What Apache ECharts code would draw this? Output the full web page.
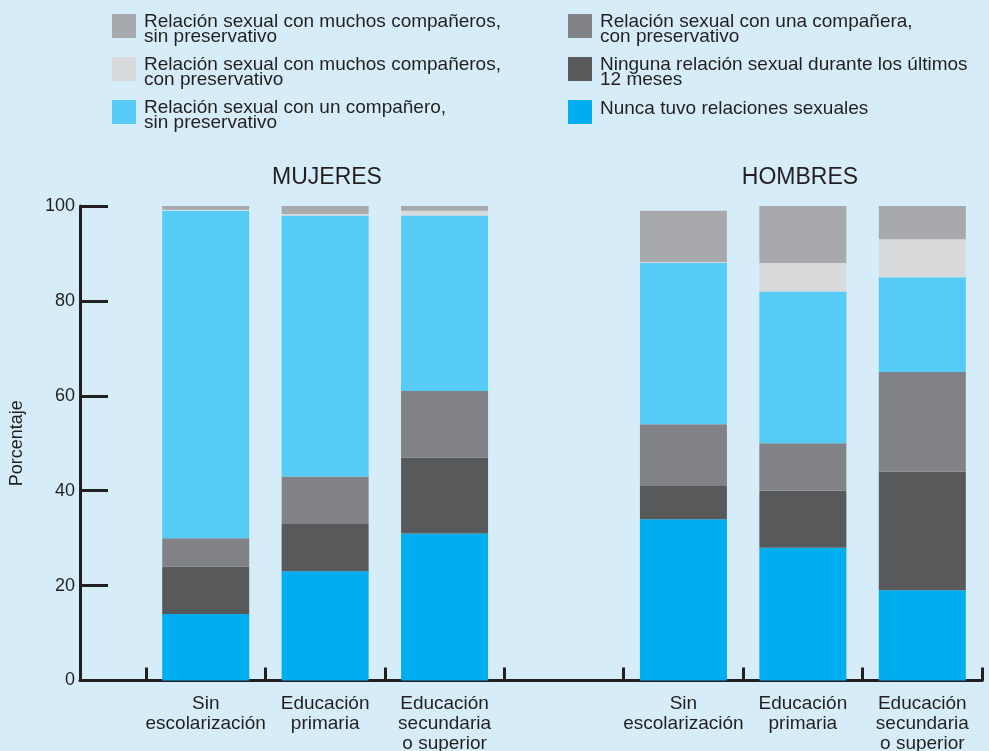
<!DOCTYPE html>
<html>
<head>
<meta charset="utf-8">
<script src="https://cdn.jsdelivr.net/npm/echarts@6/dist/echarts.min.js"></script>
<style>
html,body{margin:0;padding:0;background:#d6edf9;}
#chart{width:989px;height:751px;}
</style>
</head>
<body>
<div id="chart"></div>
<script>
// Categories (empty slot separates the two groups)
const categories = ['Sin\nescolarización', 'Educación\nprimaria', 'Educación\nsecundaria\no superior', '',
                    'Sin\nescolarización', 'Educación\nprimaria', 'Educación\nsecundaria\no superior'];
const groupTitles = ['MUJERES', 'HOMBRES'];
const yTicks = [0, 20, 40, 60, 80, 100];

// Series names (stack order, bottom to top)
const nameNunca = 'Nunca tuvo relaciones sexuales';
const nameNinguna = 'Ninguna relación sexual durante los últimos 12 meses';
const nameUnaCon = 'Relación sexual con una compañera, con preservativo';
const nameUnSin = 'Relación sexual con un compañero, sin preservativo';
const nameMuchosCon = 'Relación sexual con muchos compañeros, con preservativo';
const nameMuchosSin = 'Relación sexual con muchos compañeros, sin preservativo';

// Values (percent); '-' = empty separator slot
const nunca      = [14, 23, 31, '-', 34, 28, 19];
const ninguna    = [10, 10, 16, '-', 7, 12, 25];
const unaCon     = [6, 10, 14, '-', 13, 10, 21];
const unSin      = [69, 55, 37, '-', 34, 32, 20];
const muchosCon  = [0.2, 0.3, 1, '-', 0.2, 6, 8];
const muchosSin  = [0.8, 1.7, 1, '-', 10.8, 12, 8];

// Legend label lines
const legendLines = {};
legendLines[nameNunca] = ['Nunca tuvo relaciones sexuales'];
legendLines[nameNinguna] = ['Ninguna relación sexual durante los últimos', '12 meses'];
legendLines[nameUnaCon] = ['Relación sexual con una compañera,', 'con preservativo'];
legendLines[nameUnSin] = ['Relación sexual con un compañero,', 'sin preservativo'];
legendLines[nameMuchosCon] = ['Relación sexual con muchos compañeros,', 'con preservativo'];
legendLines[nameMuchosSin] = ['Relación sexual con muchos compañeros,', 'sin preservativo'];

const colors = {};
colors[nameNunca] = '#00aeef';
colors[nameNinguna] = '#58595b';
colors[nameUnaCon] = '#808285';
colors[nameUnSin] = '#55cbf5';
colors[nameMuchosCon] = '#d9dadc';
colors[nameMuchosSin] = '#a7a9ac';

const FONT = "'Liberation Sans', Arial, sans-serif";
const TXT = '#231f20';

const chart = echarts.init(document.getElementById('chart'), null, {renderer: 'canvas'});

function barSeries(name, data) {
  return {
    name: name, type: 'bar', stack: 'total', data: data,
    xAxisIndex: 0, yAxisIndex: 0,
    barWidth: 87,
    itemStyle: {color: colors[name]},
    emphasis: {disabled: true}
  };
}

function legendFormatter(n) {
  const lines = legendLines[n].map(function (l) { return '{t|' + l + '}'; });
  if (lines.length > 1) {
    return '{s6| }\n' + lines.join('\n');
  }
  return '{s7| }\n' + lines[0] + '\n{s14| }';
}

const legendCommon = {
  orient: 'vertical', top: 8, itemWidth: 24, itemHeight: 24, itemGap: 5,
  icon: 'rect', padding: 0,
  formatter: legendFormatter,
  textStyle: {
    fontFamily: FONT, fontSize: 19, color: TXT, padding: [0, 0, 0, 3],
    rich: {
      t: {fontFamily: FONT, fontSize: 19, lineHeight: 15, color: TXT},
      s6: {fontSize: 6, lineHeight: 6, height: 6},
      s7: {fontSize: 7, lineHeight: 7, height: 7},
      s14: {fontSize: 14, lineHeight: 14, height: 14}
    }
  },
  selectedMode: false
};

const option = {
  backgroundColor: '#d6edf9',
  animation: false,
  textStyle: {fontFamily: FONT},
  title: [
    {text: groupTitles[0], left: 327, top: 166, padding: 0, textAlign: 'center',
     textStyle: {fontFamily: FONT, fontSize: 23, fontWeight: 'normal', color: TXT}},
    {text: groupTitles[1], left: 800, top: 166, padding: 0, textAlign: 'center',
     textStyle: {fontFamily: FONT, fontSize: 23, fontWeight: 'normal', color: TXT}}
  ],
  legend: [
    Object.assign({}, legendCommon, {left: 112, data: [nameMuchosSin, nameMuchosCon, nameUnSin]}),
    Object.assign({}, legendCommon, {left: 568, data: [nameUnaCon, nameNinguna, nameNunca]})
  ],
  grid: [
    {left: 146, right: 7, top: 206, bottom: 70.5, containLabel: false, outerBoundsMode: 'none'},
    {left: 80, right: 7, top: 206, bottom: 70.5, containLabel: false, outerBoundsMode: 'none'}
  ],
  xAxis: [
    {
      type: 'category', gridIndex: 0, data: categories, boundaryGap: true,
      axisLine: {show: true, lineStyle: {color: TXT, width: 3}},
      axisTick: {show: true, inside: true, length: 13, interval: 0, lineStyle: {color: TXT, width: 3}},
      axisLabel: {interval: 0, margin: 13, fontFamily: FONT, fontSize: 19, lineHeight: 20, color: TXT},
      splitLine: {show: false}
    },
    {
      type: 'value', gridIndex: 1, min: 0, max: 1,
      axisLine: {show: true, lineStyle: {color: TXT, width: 3}},
      axisTick: {show: false}, axisLabel: {show: false}, splitLine: {show: false}
    }
  ],
  yAxis: [
    {type: 'value', gridIndex: 0, min: 0, max: 100, interval: 20, show: false},
    {
      type: 'value', gridIndex: 1, min: yTicks[0], max: yTicks[yTicks.length - 1], interval: 20,
      name: 'Porcentaje', nameLocation: 'middle', nameGap: 54, nameRotate: 90,
      nameTextStyle: {fontFamily: FONT, fontSize: 18, color: TXT},
      axisLine: {show: true, lineStyle: {color: TXT, width: 3}},
      axisTick: {show: true, inside: true, length: 28, lineStyle: {color: TXT, width: 3}},
      axisLabel: {margin: 5, fontFamily: FONT, fontSize: 18, color: TXT},
      splitLine: {show: false}
    }
  ],
  series: [
    barSeries(nameNunca, nunca),
    barSeries(nameNinguna, ninguna),
    barSeries(nameUnaCon, unaCon),
    barSeries(nameUnSin, unSin),
    barSeries(nameMuchosCon, muchosCon),
    barSeries(nameMuchosSin, muchosSin)
  ]
};
chart.setOption(option);
</script>
</body>
</html>
